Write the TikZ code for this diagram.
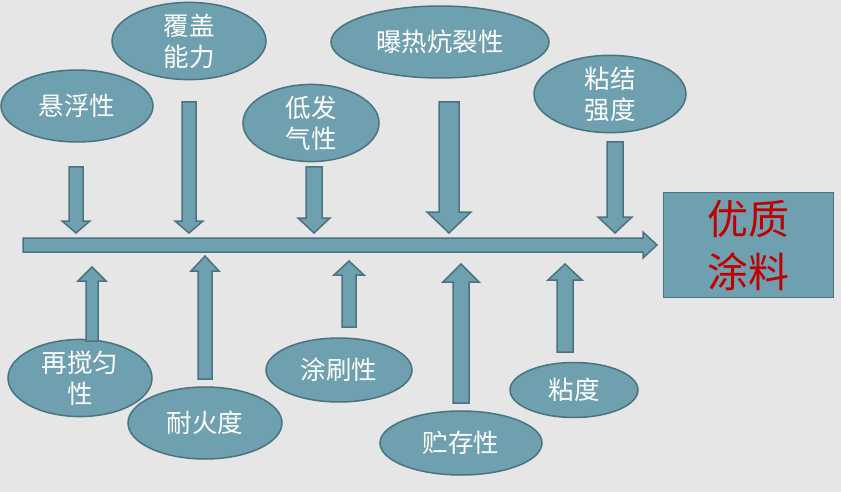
\documentclass[tikz,border=0pt]{standalone}
\usepackage{fontspec}
\setmainfont{Noto Sans CJK SC}
\usepackage{tikz}
\usetikzlibrary{shapes.geometric}
\definecolor{bggray}{RGB}{230,230,230}
\definecolor{tealfill}{RGB}{110,160,176}
\definecolor{tealline}{RGB}{74,115,128}
\definecolor{goalred}{RGB}{192,0,0}

\begin{document}
\begin{tikzpicture}[x=1pt, y=-1pt,
  el/.style={ellipse, draw=tealline, fill=tealfill, line width=1.5pt, inner sep=0pt,
             text=white, font=\fontsize{25.5}{31}\selectfont, align=center},
  blk/.style={draw=tealline, fill=tealfill, line width=1.5pt, line join=miter}]
\fill[bggray] (0,0) rectangle (841,492);
\useasboundingbox (0,0) rectangle (841,492);
% upper factors
\node[el, minimum width=152pt, minimum height=72pt] (susp) at (77,106) {悬浮性};
\node[el, minimum width=154pt, minimum height=55pt] (cover) at (189,41) {覆盖\\能力};
\node[el, minimum width=218pt, minimum height=72pt] (crack) at (440,42) {曝热炕裂性};
\node[el, minimum width=136pt, minimum height=56pt] (lowvol) at (311,123) {低发\\气性};
\node[el, minimum width=152pt, minimum height=64pt] (bond) at (610,94) {粘结\\强度};
% lower factors
\node[el, minimum width=144pt, minimum height=64pt] (restir) at (80,378) {再搅匀\\性};
\node[el, minimum width=154pt, minimum height=72pt] (fire) at (205,423) {耐火度};
\node[el, minimum width=146pt, minimum height=64pt] (brush) at (339,370) {涂刷性};
\node[el, minimum width=162pt, minimum height=64pt] (store) at (461,443) {贮存性};
\node[el, minimum width=128pt, minimum height=55pt] (visc) at (574,390) {粘度};
% result
\node[draw=tealline, fill=tealfill, line width=1.5pt, minimum width=170pt, minimum height=105pt,
      text=goalred, font=\fontsize{41}{53}\selectfont, align=center] (goal) at (748.5,245) {优质\\涂料};
% main arrow
\draw[blk] (23,238) -- (643,238) -- (643,232) -- (657,245) -- (643,258) -- (643,252) -- (23,252) -- cycle;
% arrows down to the main arrow
\foreach \xc/\ya/\sw/\hb/\hw in {76/167/7/221/14, 189/102/7/221/14, 314/167/8/218/16,
                                  449/102/10/212/22, 615/142/8/217/17}
  \draw[blk] (\xc-\sw,\ya) -- (\xc+\sw,\ya) -- (\xc+\sw,\hb) -- (\xc+\hw,\hb) -- (\xc,233)
    -- (\xc-\hw,\hb) -- (\xc-\sw,\hb) -- cycle;
% arrows up to the main arrow
\foreach \xc/\ya/\sw/\tp/\hb/\hw in {92/341/6/267/281/14, 205/379/7/256/271/14, 349/327/7/261/275/15,
                                      461/403/8/264/282/18, 565/352/8/264/280/17}
  \draw[blk] (\xc-\sw,\ya) -- (\xc+\sw,\ya) -- (\xc+\sw,\hb) -- (\xc+\hw,\hb) -- (\xc,\tp)
    -- (\xc-\hw,\hb) -- (\xc-\sw,\hb) -- cycle;
\end{tikzpicture}
\end{document}
